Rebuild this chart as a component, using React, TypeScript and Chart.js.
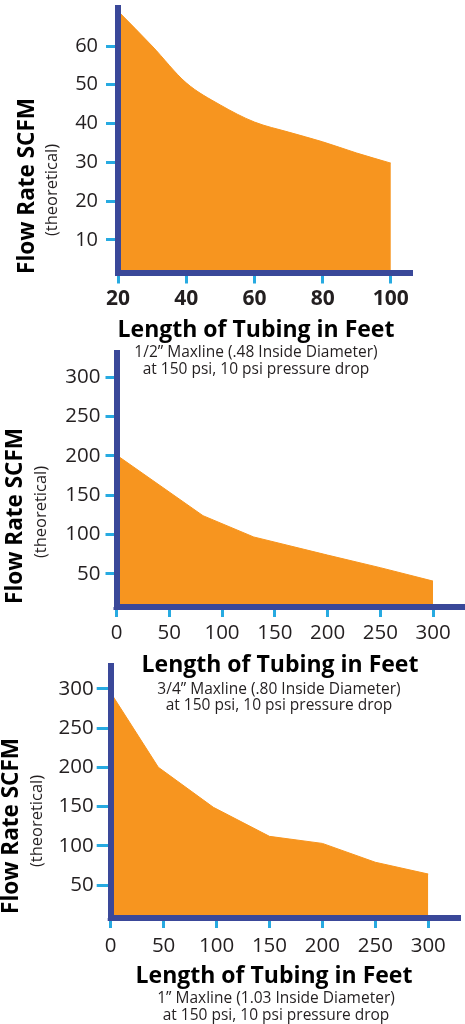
import { useEffect, useRef } from "react";
import { Chart, registerables } from "chart.js";

Chart.register(...registerables);

// ---------- data ----------
const halfInchLength = [20, 30, 40, 50, 60, 70, 80, 90, 100];
const halfInchFlow = [69, 60, 50.5, 44.8, 40.4, 37.8, 35.3, 32.4, 29.8];
const halfInchXTicks = [20, 40, 60, 80, 100];
const halfInchYTicks = [10, 20, 30, 40, 50, 60];

const threeQuarterLength = [0, 82, 130, 200, 250, 300];
const threeQuarterFlow = [201, 124, 97, 74, 58, 41];
const threeQuarterXTicks = [0, 50, 100, 150, 200, 250, 300];
const threeQuarterYTicks = [50, 100, 150, 200, 250, 300];

const oneInchLength = [0, 45, 97, 150, 200, 250, 300];
const oneInchFlow = [295, 200, 149, 112, 103, 79, 64];
const oneInchXTicks = [0, 50, 100, 150, 200, 250, 300];
const oneInchYTicks = [50, 100, 150, 200, 250, 300];

const xTitle = "Length of Tubing in Feet";
const yTitle = "Flow Rate SCFM";
const ySubtitle = "(theoretical)";
const halfInchCaption = ["1/2\u201D Maxline (.48 Inside Diameter)", "at 150 psi, 10 psi pressure drop"];
const threeQuarterCaption = ["3/4\u201D Maxline (.80 Inside Diameter)", "at 150 psi, 10 psi pressure drop"];
const oneInchCaption = ["1\u201D Maxline (1.03 Inside Diameter)", "at 150 psi, 10 psi pressure drop"];

// ---------- style ----------
const ORANGE = "#F7951F";
const NAVY = "#3A4899";
const BLUE = "#27AAE1";
const TEXT = "#231F20";
const FONT = '"Open Sans", "Noto Sans", sans-serif';
const PAGE_W = 465;
const X_AXIS_H = 40;

type Panel = {
  top: number;
  height: number;
  area: { left: number; right: number; top: number; bottom: number };
  xMin: number; xMax: number; yMin: number; yMax: number;
  xs: number[]; ys: number[]; xTicks: number[]; yTicks: number[];
  caption: string[];
  smooth: boolean;
  xTickFont: { size: number; weight: string };
  yTickFont: { size: number; weight: string };
  xTickLen: number; yTickLen: number; xPad: number; yPad: number;
  yTitlePos: [number, number];
  subPos: [number, number];
  xTitlePos: [number, number];
  captionX: number;
  captionY: [number, number];
};

const panels: Panel[] = [
  {
    top: 0, height: 390,
    area: { left: 118, right: 412, top: 8, bottom: 272.5 },
    xMin: 20, xMax: 106.2, yMin: 1.6, yMax: 69.8,
    xs: halfInchLength, ys: halfInchFlow, xTicks: halfInchXTicks, yTicks: halfInchYTicks,
    caption: halfInchCaption, smooth: true,
    xTickFont: { size: 21, weight: "bold" }, yTickFont: { size: 20, weight: "normal" },
    xTickLen: 11, yTickLen: 12, xPad: 2.9, yPad: 8,
    yTitlePos: [28, 186], subPos: [52, 190], xTitlePos: [256, 330],
    captionX: 256, captionY: [353, 370],
  },
  {
    top: 340, height: 380,
    area: { left: 116.5, right: 465, top: 353, bottom: 607 },
    xMin: 0, xMax: 330.3, yMin: 8.1, yMax: 330.5,
    xs: threeQuarterLength, ys: threeQuarterFlow, xTicks: threeQuarterXTicks, yTicks: threeQuarterYTicks,
    caption: threeQuarterCaption, smooth: false,
    xTickFont: { size: 20.5, weight: "normal" }, yTickFont: { size: 20.5, weight: "normal" },
    xTickLen: 10, yTickLen: 11, xPad: 4.2, yPad: 5,
    yTitlePos: [16, 516], subPos: [41, 512], xTitlePos: [280, 665],
    captionX: 279, captionY: [690, 706],
  },
  {
    top: 650, height: 374,
    area: { left: 110.7, right: 460, top: 666, bottom: 918 },
    xMin: 0, xMax: 330, yMin: 8, yMax: 329,
    xs: oneInchLength, ys: oneInchFlow, xTicks: oneInchXTicks, yTicks: oneInchYTicks,
    caption: oneInchCaption, smooth: false,
    xTickFont: { size: 20.5, weight: "normal" }, yTickFont: { size: 20.5, weight: "normal" },
    xTickLen: 10, yTickLen: 14, xPad: 5.7, yPad: 3,
    yTitlePos: [12, 826], subPos: [37, 821], xTitlePos: [274, 976],
    captionX: 276, captionY: [999, 1016],
  },
];

function makeTextPlugin(p: Panel) {
  return {
    id: "panelText",
    afterDraw(chart: any) {
      const ctx = chart.ctx as CanvasRenderingContext2D;
      const ca = chart.chartArea;
      const off = p.top;
      ctx.save();
      // close the axis corner
      ctx.fillStyle = NAVY;
      ctx.fillRect(ca.left - 3, ca.bottom, 3, 3);

      ctx.textAlign = "center";
      ctx.textBaseline = "middle";
      // y title
      ctx.fillStyle = "#000";
      ctx.font = `bold 22.5px ${FONT}`;
      ctx.save();
      ctx.translate(p.yTitlePos[0], p.yTitlePos[1] - off);
      ctx.rotate(-Math.PI / 2);
      ctx.fillText(yTitle, 0, 0);
      ctx.restore();
      // subtitle
      ctx.fillStyle = TEXT;
      ctx.font = `16.5px ${FONT}`;
      ctx.save();
      ctx.translate(p.subPos[0], p.subPos[1] - off);
      ctx.rotate(-Math.PI / 2);
      ctx.fillText(ySubtitle, 0, 0);
      ctx.restore();
      // x title
      ctx.fillStyle = "#000";
      ctx.font = `bold 23px ${FONT}`;
      ctx.fillText(xTitle, p.xTitlePos[0], p.xTitlePos[1] - off);
      // caption
      ctx.fillStyle = TEXT;
      ctx.font = `15.5px ${FONT}`;
      p.caption.forEach((line, i) => ctx.fillText(line, p.captionX, p.captionY[i] - off));
      ctx.restore();
    },
  };
}

function PanelChart({ p }: { p: Panel }) {
  const ref = useRef<HTMLCanvasElement | null>(null);
  useEffect(() => {
    if (!ref.current) return;
    const localTop = p.area.top - p.top;
    const localBottom = p.area.bottom - p.top;
    const chart = new Chart(ref.current, {
      type: "line",
      data: {
        datasets: [
          {
            data: p.xs.map((x, i) => ({ x, y: p.ys[i] })),
            fill: "start",
            backgroundColor: ORANGE,
            borderColor: ORANGE,
            borderWidth: 1,
            pointRadius: 0,
            tension: 0,
            cubicInterpolationMode: p.smooth ? "monotone" : "default",
          } as any,
        ],
      },
      options: {
        responsive: false,
        animation: false,
        events: [],
        layout: {
          padding: {
            left: 0,
            top: localTop,
            right: PAGE_W - p.area.right,
            bottom: p.height - localBottom - X_AXIS_H,
          },
        },
        plugins: { legend: { display: false }, tooltip: { enabled: false } },
        scales: {
          x: {
            type: "linear",
            min: p.xMin,
            max: p.xMax,
            afterBuildTicks: (s: any) => {
              s.ticks = p.xTicks.map((v) => ({ value: v }));
            },
            afterFit: (s: any) => {
              s.height = X_AXIS_H;
              s.paddingLeft = 0;
              s.paddingRight = 0;
            },
            grid: {
              drawOnChartArea: false,
              drawTicks: true,
              tickLength: p.xTickLen,
              tickWidth: 3,
              tickColor: BLUE,
            },
            border: { display: true, color: NAVY, width: 6, z: 1 },
            ticks: {
              autoSkip: false,
              maxRotation: 0,
              padding: p.xPad,
              color: TEXT,
              font: { family: FONT, size: p.xTickFont.size, weight: p.xTickFont.weight as any },
            },
          },
          y: {
            type: "linear",
            min: p.yMin,
            max: p.yMax,
            afterBuildTicks: (s: any) => {
              s.ticks = p.yTicks.map((v) => ({ value: v }));
            },
            afterFit: (s: any) => {
              s.width = p.area.left;
              s.paddingTop = 0;
              s.paddingBottom = 0;
            },
            grid: {
              drawOnChartArea: false,
              drawTicks: true,
              tickLength: p.yTickLen,
              tickWidth: 3,
              tickColor: BLUE,
            },
            border: { display: true, color: NAVY, width: 6, z: 1 },
            ticks: {
              autoSkip: false,
              padding: p.yPad,
              color: TEXT,
              font: { family: FONT, size: p.yTickFont.size, weight: p.yTickFont.weight as any },
            },
          },
        },
      },
      plugins: [makeTextPlugin(p)],
    });
    return () => chart.destroy();
  }, [p]);
  return (
    <canvas
      ref={ref}
      width={PAGE_W}
      height={p.height}
      style={{ position: "absolute", left: 0, top: p.top, width: PAGE_W, height: p.height }}
    />
  );
}

export default function App() {
  useEffect(() => {
    document.body.style.margin = "0";
  }, []);
  return (
    <div style={{ position: "relative", width: PAGE_W, height: 1024, background: "#fff", overflow: "hidden" }}>
      {panels.map((p, i) => (
        <PanelChart key={i} p={p} />
      ))}
    </div>
  );
}
